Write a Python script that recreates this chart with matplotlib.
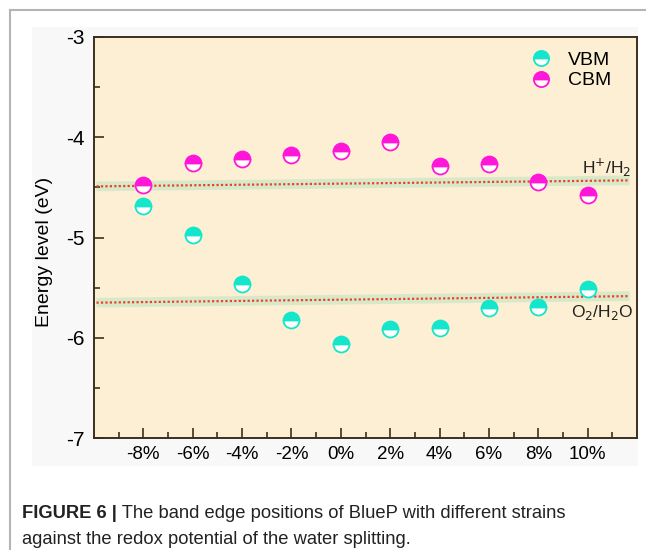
import numpy as np
import matplotlib
matplotlib.use("Agg")
import matplotlib.pyplot as plt
from matplotlib.lines import Line2D
from matplotlib.ticker import MultipleLocator

plt.rcParams['font.family'] = ['Liberation Sans', 'DejaVu Sans']

# strain (%) and band edges (eV)
strain = [-8, -6, -4, -2, 0, 2, 4, 6, 8, 10]
strain_labels = ['-8%', '-6%', '-4%', '-2%', '0%', '2%', '4%', '6%', '8%', '10%']
vbm = [-4.69, -4.98, -5.46, -5.82, -6.06, -5.91, -5.90, -5.70, -5.69, -5.51]
cbm = [-4.48, -4.26, -4.22, -4.18, -4.14, -4.05, -4.29, -4.27, -4.45, -4.58]

# redox levels, drawn as slightly sloped reference lines
redox_x = [-9.9, 11.7]
h_level = [-4.49, -4.43]
o_level = [-5.65, -5.585]

c_vbm = '#14e6cc'
c_cbm = '#ff17d9'
c_spine = '#3d2f20'

fig = plt.figure(figsize=(6.46, 5.50), dpi=100)

# page decoration: grey rule on top and left, light panel behind the plot
fig.add_artist(Line2D([10/646, 1], [1 - 10/550, 1 - 10/550], color='#b4b4b4', lw=1.5))
fig.add_artist(Line2D([10/646, 10/646], [0, 1 - 10/550], color='#b4b4b4', lw=1.5))
fig.patches.append(plt.Rectangle((32/646, 84/550), 606/646, 439/550,
                                 transform=fig.transFigure, facecolor='#f8f8f8',
                                 edgecolor='none', zorder=-5))

ax = fig.add_axes([94/646, 112/550, 543/646, 401/550])
ax.set_facecolor('#fdefd3')

for y in (h_level, o_level):
    ax.plot(redox_x, y, color='#cfe8c8', lw=7, alpha=0.8, solid_capstyle='butt', zorder=1)
    ax.plot(redox_x, y, color='#f0402a', lw=1.6, ls=(0, (1, 1)), zorder=2)

mk = dict(ls='none', marker='o', ms=11.5, mew=1.3, fillstyle='top',
          markerfacecoloralt='white', zorder=3)
ax.plot(strain, vbm, color=c_vbm, markerfacecolor=c_vbm, markeredgecolor=c_vbm,
        label='VBM', **mk)
ax.plot(strain, cbm, color=c_cbm, markerfacecolor=c_cbm, markeredgecolor=c_cbm,
        label='CBM', **mk)

ax.text(11.76, -4.31, r'H$^{+}$/H$_{2}$', ha='right', va='center', fontsize=12.5, color='#222222')
ax.text(11.84, -5.745, r'O$_{2}$/H$_{2}$O', ha='right', va='center', fontsize=12.5, color='#222222')

ax.set_xlim(-10, 12)
ax.set_ylim(-7, -3)
ax.set_xticks(strain)
ax.set_xticklabels(strain_labels)
ax.set_xticks([s + 1 for s in [-10] + strain], minor=True)
ax.yaxis.set_minor_locator(MultipleLocator(0.5))
ax.set_yticks([-7, -6, -5, -4, -3])
ax.set_yticklabels(['-7', '-6', '-5', '-4', '-3'])

ax.tick_params(axis='both', which='major', direction='in', length=7, width=1.2,
               color=c_spine, top=False, right=False)
ax.tick_params(axis='both', which='minor', direction='in', length=4, width=1.2,
               color=c_spine, top=False, right=False)
ax.tick_params(axis='x', labelsize=13.5, pad=6)
ax.tick_params(axis='y', labelsize=15, pad=7)
for s in ax.spines.values():
    s.set_color(c_spine)
    s.set_linewidth(1.4)

ax.set_ylabel('Energy level (eV)', fontsize=14)
ax.yaxis.set_label_coords(-0.076, 0.464)

ax.legend(loc='upper right', frameon=False, fontsize=14, handletextpad=0.7,
          handlelength=1.4, labelspacing=0.15, bbox_to_anchor=(0.985, 1.008),
          markerscale=0.95)

cap = fig.text(22/646, 1 - 513/550, 'FIGURE 6 |', fontsize=13.2, fontweight='bold',
               color='#222222', va='center')
ax.annotate(' The band edge positions of BlueP with different strains',
            xy=(1, 0.5), xycoords=cap, va='center', ha='left', fontsize=13.2,
            color='#222222', annotation_clip=False)
fig.text(22/646, 1 - 539/550, 'against the redox potential of the water splitting.',
         fontsize=13.2, color='#222222', va='center')

fig.savefig('out.png', dpi=100)
